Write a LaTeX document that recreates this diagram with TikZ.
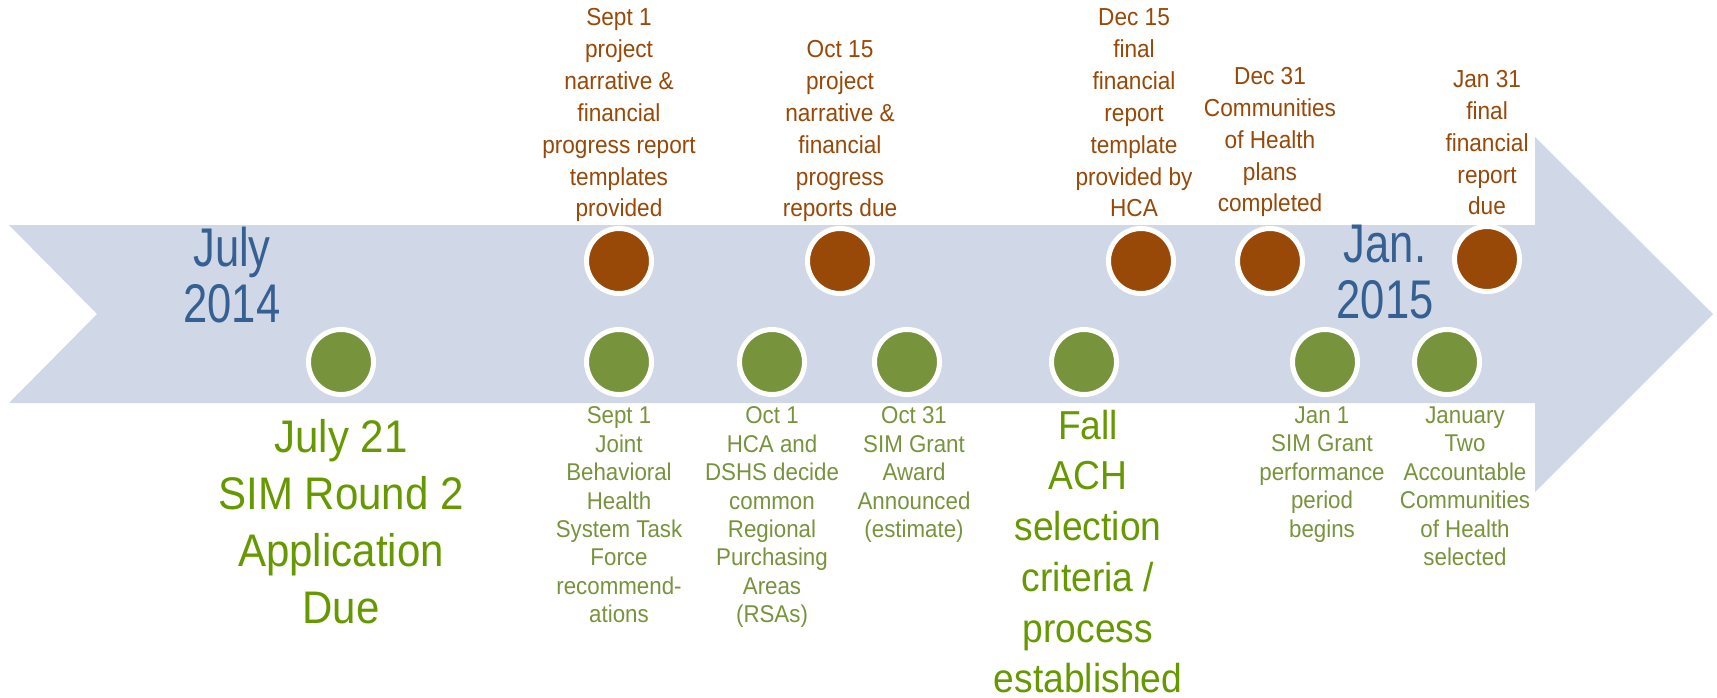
\documentclass[tikz,border=0pt]{standalone}
\usepackage{fontspec}
\setmainfont{Liberation Sans}[FakeStretch=0.92]
\newfontfamily\monthfont{Liberation Sans}[FakeStretch=0.8]
\usetikzlibrary{positioning}
\definecolor{cBand}{HTML}{D0D8E8}
\definecolor{cOrange}{HTML}{984807}
\definecolor{cGreen}{HTML}{77933C}
\definecolor{cLime}{HTML}{669900}
\definecolor{cBlue}{HTML}{366092}
\begin{document}
\begin{tikzpicture}[x=0.1mm,y=0.1mm,evt/.style={shape=circle,draw=white,line width=0.5mm,minimum size=6.5mm,inner sep=0pt},evtO/.style={evt,fill=cOrange},evtG/.style={evt,fill=cGreen},lblO/.style={align=center,inner sep=0pt,text depth=1.8pt,text=cOrange,font=\fontsize{7}{9.1}\selectfont},lblG/.style={align=center,inner sep=0pt,text=cGreen,font=\fontsize{6.9}{8.1}\selectfont},lblGL/.style={lblG,text=cLime,font=\fontsize{13}{16.2}\selectfont},lblGF/.style={lblG,text=cLime,font=\fontsize{11.5}{14.45}\selectfont},month/.style={align=center,inner sep=0pt,text=cBlue,font=\monthfont\fontsize{15.5}{16.2}\selectfont}]
\def\yO{-261}
\def\yG{-362}

\useasboundingbox (0,0) rectangle (1717,-697);
\fill[cBand] (9,-225) -- (1535,-225) -- (1535,-137) -- (1713,-314) -- (1535,-492) -- (1535,-403) -- (9,-403) -- (97,-314) -- cycle;

\node[month] (jul) at (232,-275) {July\\2014};
\node[month] (jan) at (1385,-272) {Jan.\\2015};

\node[evtO] (o1) at (619,\yO) {};
\node[lblO,above=0.2mm of o1] (o1t) {Sept 1\\project\\narrative \&\\financial\\progress report\\templates\\provided};
\node[evtO] (o2) at (840,\yO) {};
\node[lblO,above=0.2mm of o2] (o2t) {Oct 15\\project\\narrative \&\\financial\\progress\\reports due};
\node[evtO] (o3) at (1141,\yO) {};
\node[lblO,above=0.2mm of o3,xshift=-0.7mm] (o3t) {Dec 15\\final\\financial\\report\\template\\provided by\\HCA};
\node[evtO] (o4) at (1270,\yO) {};
\node[lblO,above=0.7mm of o4] (o4t) {Dec 31\\Communities\\of Health\\plans\\completed};
\node[evtO] (o5) at (1487,-259) {};
\node[lblO,above=0.2mm of o5] (o5t) {Jan 31\\final\\financial\\report\\due};

\node[evtG] (g1) at (341,\yG) {};
\node[lblGL,below=2.2mm of g1] (g1t) {July 21\\SIM Round 2\\Application\\Due};
\node[evtG] (g2) at (619,\yG) {};
\node[lblG,below=0.9mm of g2] (g2t) {Sept 1\\Joint\\Behavioral\\Health\\System Task\\Force\\recommend-\\ations};
\node[evtG] (g3) at (772,\yG) {};
\node[lblG,below=0.9mm of g3] (g3t) {Oct 1\\HCA and\\DSHS decide\\common\\Regional\\Purchasing\\Areas\\(RSAs)};
\node[evtG] (g4) at (907,\yG) {};
\node[lblG,below=0.9mm of g4,xshift=0.7mm] (g4t) {Oct 31\\SIM Grant\\Award\\Announced\\(estimate)};
\node[evtG] (g5) at (1084,\yG) {};
\node[lblGF,below=1.2mm of g5,xshift=0.4mm] (g5t) {Fall\\ACH\\selection\\criteria /\\process\\established};
\node[evtG] (g6) at (1325,\yG) {};
\node[lblG,below=0.9mm of g6,xshift=-0.3mm] (g6t) {Jan 1\\SIM Grant\\performance\\period\\begins};
\node[evtG] (g7) at (1447,\yG) {};
\node[lblG,below=0.9mm of g7,xshift=1.8mm] (g7t) {January\\Two\\Accountable\\Communities\\of Health\\selected};
\end{tikzpicture}
\end{document}
